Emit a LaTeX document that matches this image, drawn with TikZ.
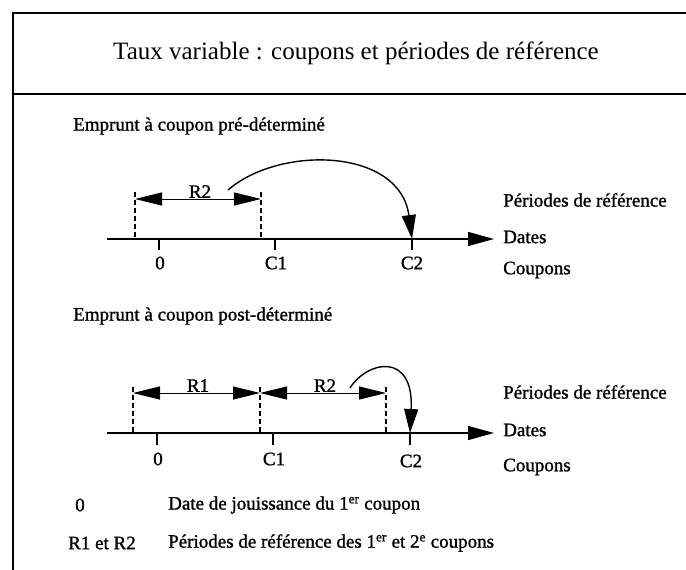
\documentclass[tikz,border=0pt]{standalone}
\usepackage{fontspec}
\setmainfont{Liberation Serif}
\newfontfamily\lblfont[FakeBold=1.2]{Liberation Serif}
\usetikzlibrary{arrows.meta}
\begin{document}
\begin{tikzpicture}[x=1pt,y=-1pt,
  frame/.style={line width=2.4pt, line cap=rect},
  axis/.style={line width=1.4pt, -{Triangle[length=26pt,width=14pt]}},
  tickmark/.style={line width=1.4pt},
  guide/.style={line width=1.4pt, dash pattern=on 5pt off 3pt},
  period/.style={line width=1pt, {Triangle[length=27pt,width=13pt]}-{Triangle[length=27pt,width=13pt]}},
  link/.style={line width=1.4pt, -{Triangle[length=24pt,width=14pt]}},
  lbl/.style={font=\lblfont\fontsize{19}{21}\selectfont, inner sep=0pt},
  ttl/.style={font=\fontsize{25}{28}\selectfont, inner sep=0pt}
]
\useasboundingbox (0,0) rectangle (686,570);
% frame
\coordinate (fb) at (13,570);
\coordinate (ft) at (13,13);
\coordinate (fr) at (686,13);
\coordinate (ml) at (13,94);
\coordinate (mr) at (686,94);
\draw[frame] (fb) -- (ft) -- (fr);
\draw[frame] (ml) -- (mr);
\node[ttl] (title) at (356,53) {Taux variable : coupons et périodes de référence};

% ---------- top diagram ----------
\node[lbl, anchor=west] (h1) at (73,126) {Emprunt à coupon pré-déterminé};
\coordinate (a1s) at (107,239);
\coordinate (a1e) at (494,239);
\draw[axis] (a1s) -- (a1e);
\coordinate (t1a) at (159,239); \coordinate (t1ab) at (159,250);
\coordinate (t1b) at (275,239); \coordinate (t1bb) at (275,250);
\coordinate (t1c) at (412,239); \coordinate (t1cb) at (412,250);
\draw[tickmark] (t1a) -- (t1ab);
\draw[tickmark] (t1b) -- (t1bb);
\draw[tickmark] (t1c) -- (t1cb);
\node[lbl] (z1) at (160,263) {0};
\node[lbl] (c11) at (276,263) {C1};
\node[lbl] (c21) at (412,263) {C2};
\coordinate (d1a) at (135,192); \coordinate (d1ab) at (135,239);
\coordinate (d1b) at (261,192); \coordinate (d1bb) at (261,239);
\draw[guide] (d1a) -- (d1ab);
\draw[guide] (d1b) -- (d1bb);
\coordinate (p1a) at (135,199); \coordinate (p1b) at (261,199);
\draw[period] (p1a) -- (p1b);
\node[lbl, anchor=south] (r21) at (200,198) {R2};
\coordinate (k1s) at (228,190);
\draw[link] (k1s) .. controls (280,145) and (400,148) .. (t1c);
\node[lbl, anchor=west] (pr1) at (503,200) {Périodes de référence};
\node[lbl, anchor=west] (dt1) at (503,237) {Dates};
\node[lbl, anchor=west] (cp1) at (503,270) {Coupons};

% ---------- bottom diagram ----------
\node[lbl, anchor=west] (h2) at (73,316) {Emprunt à coupon post-déterminé};
\coordinate (a2s) at (107,433);
\coordinate (a2e) at (494,433);
\draw[axis] (a2s) -- (a2e);
\coordinate (t2a) at (157,433); \coordinate (t2ab) at (157,445);
\coordinate (t2b) at (273,433); \coordinate (t2bb) at (273,445);
\coordinate (t2c) at (410,433); \coordinate (t2cb) at (410,445);
\draw[tickmark] (t2a) -- (t2ab);
\draw[tickmark] (t2b) -- (t2bb);
\draw[tickmark] (t2c) -- (t2cb);
\node[lbl] (z2) at (158,459) {0};
\node[lbl] (c12) at (274,459) {C1};
\node[lbl] (c22) at (411,461) {C2};
\coordinate (d2a) at (133,387); \coordinate (d2ab) at (133,433);
\coordinate (d2b) at (260,387); \coordinate (d2bb) at (260,433);
\coordinate (d2c) at (386,387); \coordinate (d2cb) at (386,433);
\draw[guide] (d2a) -- (d2ab);
\draw[guide] (d2b) -- (d2bb);
\draw[guide] (d2c) -- (d2cb);
\coordinate (p2a) at (133,393); \coordinate (p2b) at (260,393); \coordinate (p2c) at (386,393);
\draw[period] (p2a) -- (p2b);
\draw[period] (p2b) -- (p2c);
\node[lbl, anchor=south] (r12) at (198,392) {R1};
\node[lbl, anchor=south] (r22) at (325,392) {R2};
\coordinate (k2s) at (350,388);
\draw[link] (k2s) .. controls (368,360) and (414,352) .. (t2c);
\node[lbl, anchor=west] (pr2) at (503,392) {Périodes de référence};
\node[lbl, anchor=west] (dt2) at (503,430) {Dates};
\node[lbl, anchor=west] (cp2) at (503,467) {Coupons};

% ---------- legend ----------
\node[lbl] (lz) at (80,505) {0};
\node[lbl, anchor=west] (lzt) at (168,505) {Date de jouissance du 1\textsuperscript{er} coupon};
\node[lbl, anchor=west] (lr) at (68,543) {R1 et R2};
\node[lbl, anchor=west] (lrt) at (168,543) {Périodes de référence des 1\textsuperscript{er} et 2\textsuperscript{e} coupons};
\end{tikzpicture}
\end{document}
